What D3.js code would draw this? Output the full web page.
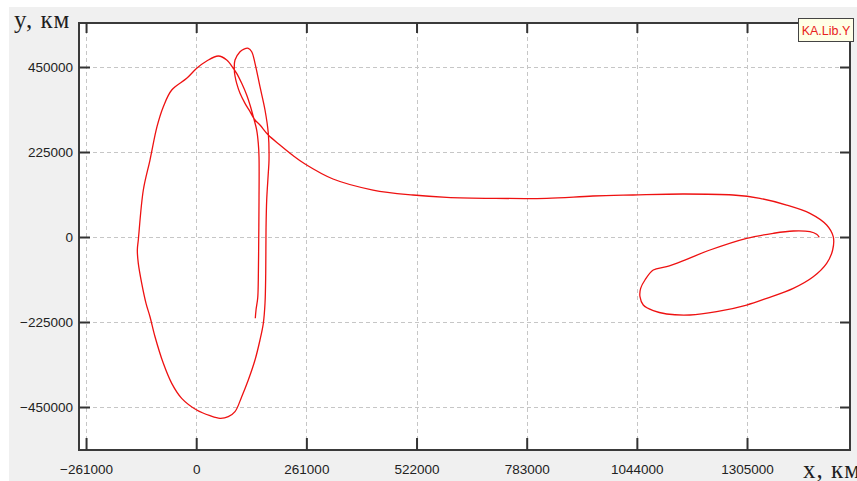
<!DOCTYPE html>
<html>
<head>
<meta charset="utf-8">
<script src="https://cdn.jsdelivr.net/npm/d3@7"></script>
<style>
  body { margin: 0; background: #fff; }
  svg { display: block; }
</style>
</head>
<body>
<svg id="chart" width="857" height="481"></svg>
<script>
// trajectory, km
var xKm = [140000, 141700, 145700, 147100, 148100, 148800, 148800, 147100, 143300, 135300,
  127500, 119600, 107800, 95900, 87900, 72300, 52400, 24900, 1200, -22500,
  -58000, -77900, -92900, -109500, -125300, -137200, -139500, -137200, -129100, -118900,
  -109500, -97600, -77900, -58000, -34400, 1200, 32700, 56400, 76000, 91900,
  107800, 123400, 139300, 151100, 159000, 163000, 164700, 165400, 167000, 170800,
  172500, 170800, 163000, 151100, 139300, 131500, 123400, 113200, 103800, 91900,
  90300, 91900, 95900, 103800, 115600, 127500, 139300, 151100, 170800, 198500,
  229300, 257800, 324100, 418800, 513600, 593400, 703100, 830300, 940000, 1034800,
  1153200, 1271700, 1335600, 1398900, 1454100, 1493700, 1509300, 1507900, 1493700, 1461900,
  1414600, 1351500, 1304100, 1233100, 1169800, 1114600, 1082900, 1059200, 1051400, 1053000,
  1063200, 1082900, 1114600, 1162000, 1217200, 1304100, 1367200, 1414600, 1454100, 1470000,
  1476200];
var yKm = [-215200, -193200, -161500, -113800, -7900, 97900, 211800, 248000, 283200, 318400,
  349400, 375900, 406800, 433300, 446600, 468500, 479100, 465900, 446600, 420100,
  389100, 344900, 292000, 203800, 124400, -7900, -34400, -69600, -122600, -175500,
  -211000, -263900, -334300, -387300, -427000, -457900, -473000, -479900, -475700, -462400,
  -422700, -378500, -325600, -272600, -228400, -175500, -96100, 18500, 97900, 169400,
  203800, 274500, 336200, 397800, 459800, 490500, 499500, 497600, 490500, 468500,
  442000, 426200, 406800, 380400, 353900, 331700, 309700, 296500, 270000, 243500,
  215700, 193200, 153500, 124400, 111200, 105100, 102400, 102400, 108500, 111200,
  113800, 111200, 102400, 84700, 62700, 31800, 800, -34400, -69600, -105100,
  -135800, -162300, -180000, -197700, -206500, -203800, -195100, -180000, -158000, -135800,
  -113800, -87400, -78600, -59000, -34400, -3400, 9800, 15900, 14000, 7100,
  -800];

var xTicks = [-261000, 0, 261000, 522000, 783000, 1044000, 1305000];
var yTicks = [-450000, -225000, 0, 225000, 450000];
var seriesName = "KA.Lib.Y";

var svg = d3.select("#chart");
var plotL = 79, plotR = 850, plotT = 23, plotB = 450;

var x = d3.scaleLinear().domain([-277700, 1549000]).range([plotL, plotR]);
var y = d3.scaleLinear().domain([-563800, 566500]).range([plotB, plotT]);

// window background
svg.append("rect").attr("x", 9).attr("y", 7).attr("width", 848).attr("height", 474)
  .attr("fill", "#f0f0f0");
svg.append("rect").attr("x", plotL).attr("y", plotT)
  .attr("width", plotR - plotL).attr("height", plotB - plotT).attr("fill", "#fff");

// grid
var grid = svg.append("g").attr("stroke", "#c6c6c6").attr("stroke-dasharray", "4,3");
grid.selectAll("line.gx").data(xTicks).enter().append("line")
  .attr("x1", d => Math.round(x(d)) + 0.5).attr("x2", d => Math.round(x(d)) + 0.5)
  .attr("y1", plotT).attr("y2", plotB);
grid.selectAll("line.gy").data(yTicks).enter().append("line")
  .attr("y1", d => Math.round(y(d)) + 0.5).attr("y2", d => Math.round(y(d)) + 0.5)
  .attr("x1", plotL).attr("x2", plotR);

// trajectory
var pts = xKm.map((v, i) => [v, yKm[i]]);
var line = d3.line().x(d => x(d[0])).y(d => y(d[1])).curve(d3.curveCatmullRom.alpha(0.5));
svg.append("path").datum(pts).attr("d", line)
  .attr("fill", "none").attr("stroke", "#ee1111").attr("stroke-width", 1.3);

// frame
svg.append("rect").attr("x", plotL).attr("y", plotT)
  .attr("width", plotR - plotL).attr("height", plotB - plotT)
  .attr("fill", "none").attr("stroke", "#3a3a3a").attr("stroke-width", 2);

// axes, ticks pointing inward
var font = "'Liberation Sans', Arial, sans-serif";
var xb = svg.append("g").attr("transform", "translate(0," + plotB + ")")
  .call(d3.axisBottom(x).tickValues(xTicks).tickSizeInner(-12).tickSizeOuter(0).tickPadding(14)
    .tickFormat(d3.format("d")));
var xt = svg.append("g").attr("transform", "translate(0," + plotT + ")")
  .call(d3.axisTop(x).tickValues(xTicks).tickSizeInner(-10).tickSizeOuter(0).tickFormat(""));
var yl = svg.append("g").attr("transform", "translate(" + plotL + ",0)")
  .call(d3.axisLeft(y).tickValues(yTicks).tickSizeInner(-11).tickSizeOuter(0).tickPadding(6)
    .tickFormat(d3.format("d")));
var yr = svg.append("g").attr("transform", "translate(" + plotR + ",0)")
  .call(d3.axisRight(y).tickValues(yTicks).tickSizeInner(-10).tickSizeOuter(0).tickFormat(""));
[xb, xt, yl, yr].forEach(function(g) {
  g.select(".domain").remove();
  g.selectAll(".tick line").attr("stroke", "#333").attr("stroke-width", 2);
  g.selectAll("text").attr("font-family", font).attr("font-size", 13.5).attr("fill", "#222");
});

// axis titles
svg.append("text").attr("x", 14).attr("y", 28).text("y, км")
  .attr("font-family", "'Liberation Serif', 'Times New Roman', serif")
  .attr("font-size", 25).attr("fill", "#1e1e1e").attr("letter-spacing", 1);
svg.append("text").attr("x", 803).attr("y", 478).text("x, км")
  .attr("font-family", "'Liberation Serif', 'Times New Roman', serif")
  .attr("font-size", 25).attr("fill", "#1e1e1e").attr("letter-spacing", 1);

// legend
var lg = svg.append("g");
lg.append("rect").attr("x", 798.5).attr("y", 18.5).attr("width", 55).attr("height", 23)
  .attr("fill", "#ffffe6").attr("stroke", "#444").attr("stroke-width", 1);
lg.append("text").attr("x", 826).attr("y", 34.5).attr("text-anchor", "middle")
  .text(seriesName).attr("font-family", font).attr("font-size", 12.5).attr("fill", "#e82020");
</script>
</body>
</html>
